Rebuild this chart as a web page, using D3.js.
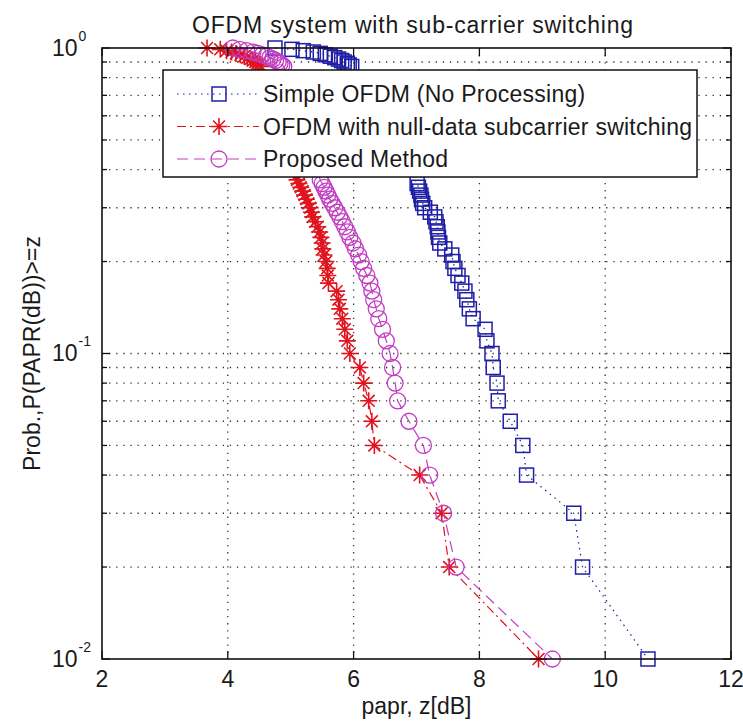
<!DOCTYPE html>
<html>
<head>
<meta charset="utf-8">
<script src="https://cdn.jsdelivr.net/npm/d3@7"></script>
<style>
  body { margin: 0; background: #fff; }
  text { font-family: "Liberation Sans", Arial, sans-serif; fill: #1a1a1a; }
</style>
</head>
<body>
<svg id="chart" width="743" height="726"></svg>
<script>
// ---- data (p = P(PAPR >= z), x = papr z in dB) ----
// points hidden behind the legend box are left out
const simpleProb = [1.00, 0.99, 0.98, 0.97, 0.96, 0.95, 0.94, 0.93, 0.92, 0.91, 0.90, 0.89, 0.88, 0.87,
  0.36, 0.35, 0.34, 0.33, 0.32, 0.31, 0.30, 0.29, 0.28, 0.27, 0.26, 0.25, 0.24, 0.23, 0.22, 0.21,
  0.20, 0.19, 0.18, 0.17, 0.16, 0.15, 0.14, 0.13, 0.12, 0.11, 0.10, 0.09, 0.08, 0.07, 0.06, 0.05,
  0.04, 0.03, 0.02, 0.01];
const simplePapr = [4.75, 5.02, 5.20, 5.36, 5.47, 5.55, 5.63, 5.70, 5.76, 5.81, 5.85, 5.90, 5.93, 5.97,
  7.01, 7.03, 7.05, 7.07, 7.08, 7.10, 7.13, 7.22, 7.29, 7.31, 7.33, 7.34, 7.35, 7.37, 7.45, 7.56,
  7.58, 7.61, 7.66, 7.72, 7.77, 7.80, 7.84, 7.90, 8.09, 8.12, 8.20, 8.22, 8.28, 8.30, 8.49, 8.69,
  8.75, 9.50, 9.64, 10.68];

const nullProb = [1.00, 0.99, 0.98, 0.97, 0.96, 0.95, 0.94, 0.93, 0.92, 0.91, 0.90, 0.89, 0.88, 0.87,
  0.37, 0.36, 0.35, 0.34, 0.33, 0.32, 0.31, 0.30, 0.29, 0.28, 0.27, 0.26, 0.25, 0.24, 0.23, 0.22,
  0.21, 0.20, 0.19, 0.18, 0.17, 0.16, 0.15, 0.14, 0.13, 0.12, 0.11, 0.10, 0.09, 0.08, 0.07, 0.06,
  0.05, 0.04, 0.03, 0.02, 0.01];
const nullPapr = [3.67, 3.88, 3.98, 4.06, 4.13, 4.20, 4.26, 4.31, 4.36, 4.40, 4.44, 4.47, 4.50, 4.53,
  5.10, 5.13, 5.16, 5.19, 5.22, 5.25, 5.28, 5.31, 5.33, 5.35, 5.39, 5.43, 5.46, 5.48, 5.50, 5.51,
  5.53, 5.56, 5.58, 5.59, 5.60, 5.73, 5.76, 5.78, 5.82, 5.86, 5.90, 5.94, 6.10, 6.16, 6.24, 6.29,
  6.33, 7.05, 7.40, 7.52, 8.94];

const propProb = nullProb;
const propPapr = [4.08, 4.19, 4.30, 4.40, 4.48, 4.55, 4.61, 4.67, 4.72, 4.76, 4.80, 4.83, 4.86, 4.89,
  5.47, 5.50, 5.53, 5.56, 5.59, 5.62, 5.66, 5.70, 5.74, 5.78, 5.82, 5.86, 5.90, 5.94, 5.99, 6.03,
  6.08, 6.12, 6.16, 6.21, 6.26, 6.29, 6.32, 6.36, 6.40, 6.46, 6.52, 6.58, 6.62, 6.66, 6.70, 6.88,
  7.11, 7.21, 7.43, 7.63, 9.16];

const seriesNames = ["Simple OFDM (No Processing)", "OFDM with null-data subcarrier switching", "Proposed Method"];
const xTicks = [2, 4, 6, 8, 10, 12];
const yTicks = [1, 0.1, 0.01];
const yExponents = ["0", "-1", "-2"];

// ---- layout ----
const svg = d3.select("#chart");
const plotL = 102, plotR = 731, plotT = 48, plotB = 659;
const FS = 23;

const x = d3.scaleLinear().domain([2, 12]).range([plotL, plotR]);
const y = d3.scaleLog().domain([0.01, 1]).range([plotB, plotT]);

const series = [
  { name: seriesNames[0], prob: simpleProb, papr: simplePapr, color: "#1f1fa6", dash: "1.5,4.5", marker: "square" },
  { name: seriesNames[1], prob: nullProb, papr: nullPapr, color: "#e0141e", dash: "9,4,2,4", marker: "star" },
  { name: seriesNames[2], prob: propProb, papr: propPapr, color: "#c23cc2", dash: "11,6", marker: "circle" }
];

// grid
const minorY = [];
[0.01, 0.1].forEach((d) => { for (let k = 2; k <= 9; k++) minorY.push(d * k); });
const grid = svg.append("g").attr("stroke", "#333").attr("stroke-width", 1.3).attr("stroke-dasharray", "1.3,5.8");
grid.selectAll("line.gx").data(xTicks.slice(1, -1)).enter().append("line")
  .attr("x1", (d) => x(d)).attr("x2", (d) => x(d)).attr("y1", plotT).attr("y2", plotB);
grid.selectAll("line.gy").data(minorY.concat([0.1])).enter().append("line")
  .attr("y1", (d) => y(d)).attr("y2", (d) => y(d)).attr("x1", plotL).attr("x2", plotR);

// marker drawers
function drawMarker(g, type, color) {
  if (type === "square") {
    g.append("rect").attr("x", -7).attr("y", -7).attr("width", 14).attr("height", 14)
      .attr("fill", "none").attr("stroke", color).attr("stroke-width", 1.5);
  } else if (type === "circle") {
    g.append("circle").attr("r", 8).attr("fill", "none").attr("stroke", color).attr("stroke-width", 1.3);
  } else {
    const r = 8.5;
    g.append("path")
      .attr("d", `M${-r},0H${r}M0,${-r}V${r}M${-r * 0.7},${-r * 0.7}L${r * 0.7},${r * 0.7}M${-r * 0.7},${r * 0.7}L${r * 0.7},${-r * 0.7}`)
      .attr("stroke", color).attr("stroke-width", 1.6).attr("fill", "none");
  }
}

// series
const line = d3.line().x((d) => x(d.papr)).y((d) => y(d.prob));
series.forEach((s) => {
  const pts = s.prob.map((p, i) => ({ prob: p, papr: s.papr[i] }));
  const g = svg.append("g");
  g.append("path").datum(pts).attr("d", line)
    .attr("fill", "none").attr("stroke", s.color).attr("stroke-width", 1.2)
    .attr("stroke-dasharray", s.dash);
  g.selectAll("g.m").data(pts).enter().append("g")
    .attr("transform", (d) => `translate(${x(d.papr)},${y(d.prob)})`)
    .each(function () { drawMarker(d3.select(this), s.marker, s.color); });
});

// axes frame and ticks
const axes = svg.append("g");
axes.append("rect").attr("x", plotL).attr("y", plotT).attr("width", plotR - plotL).attr("height", plotB - plotT)
  .attr("fill", "none").attr("stroke", "#111").attr("stroke-width", 1.6);
const tk = axes.append("g").attr("stroke", "#111").attr("stroke-width", 1.3);
xTicks.forEach((d) => {
  tk.append("line").attr("x1", x(d)).attr("x2", x(d)).attr("y1", plotB).attr("y2", plotB - 8);
  tk.append("line").attr("x1", x(d)).attr("x2", x(d)).attr("y1", plotT).attr("y2", plotT + 8);
});
yTicks.concat(minorY).forEach((d, i) => {
  const len = i < yTicks.length ? 8 : 5;
  tk.append("line").attr("y1", y(d)).attr("y2", y(d)).attr("x1", plotL).attr("x2", plotL + len);
  tk.append("line").attr("y1", y(d)).attr("y2", y(d)).attr("x1", plotR).attr("x2", plotR - len);
});

// tick labels
axes.selectAll("text.xt").data(xTicks).enter().append("text")
  .attr("x", (d) => x(d)).attr("y", plotB + 28).attr("text-anchor", "middle")
  .attr("font-size", FS).text((d) => d);
yTicks.forEach((d, i) => {
  const t = axes.append("text").attr("x", 52).attr("y", y(d) + 7.5).attr("font-size", FS);
  t.append("tspan").text("10");
  t.append("tspan").attr("dx", 1).attr("dy", -15).attr("font-size", 14).text(yExponents[i]);
});

// title and axis labels
svg.append("text").attr("x", 413).attr("y", 33).attr("text-anchor", "middle")
  .attr("font-size", FS).attr("letter-spacing", 0.8).text("OFDM system with sub-carrier switching");
svg.append("text").attr("x", (plotL + plotR) / 2).attr("y", 714).attr("text-anchor", "middle")
  .attr("font-size", FS).text("papr, z[dB]");
svg.append("text").attr("transform", `translate(40,${(plotT + plotB) / 2}) rotate(-90)`)
  .attr("text-anchor", "middle").attr("font-size", FS).text("Prob.,P(PAPR(dB))>=z");

// legend
const lg = svg.append("g");
lg.append("rect").attr("x", 163).attr("y", 70).attr("width", 534).attr("height", 107)
  .attr("fill", "#fff").attr("stroke", "#111").attr("stroke-width", 1.5);
series.forEach((s, i) => {
  const cy = 94 + i * 32.5;
  lg.append("line").attr("x1", 177).attr("x2", 259).attr("y1", cy).attr("y2", cy)
    .attr("stroke", s.color).attr("stroke-width", 1.2).attr("stroke-dasharray", s.dash);
  drawMarker(lg.append("g").attr("transform", `translate(219,${cy})`), s.marker, s.color);
  lg.append("text").attr("x", 263).attr("y", cy + 8.2).attr("font-size", FS)
    .attr("letter-spacing", 0.25).text(s.name);
});
</script>
</body>
</html>
